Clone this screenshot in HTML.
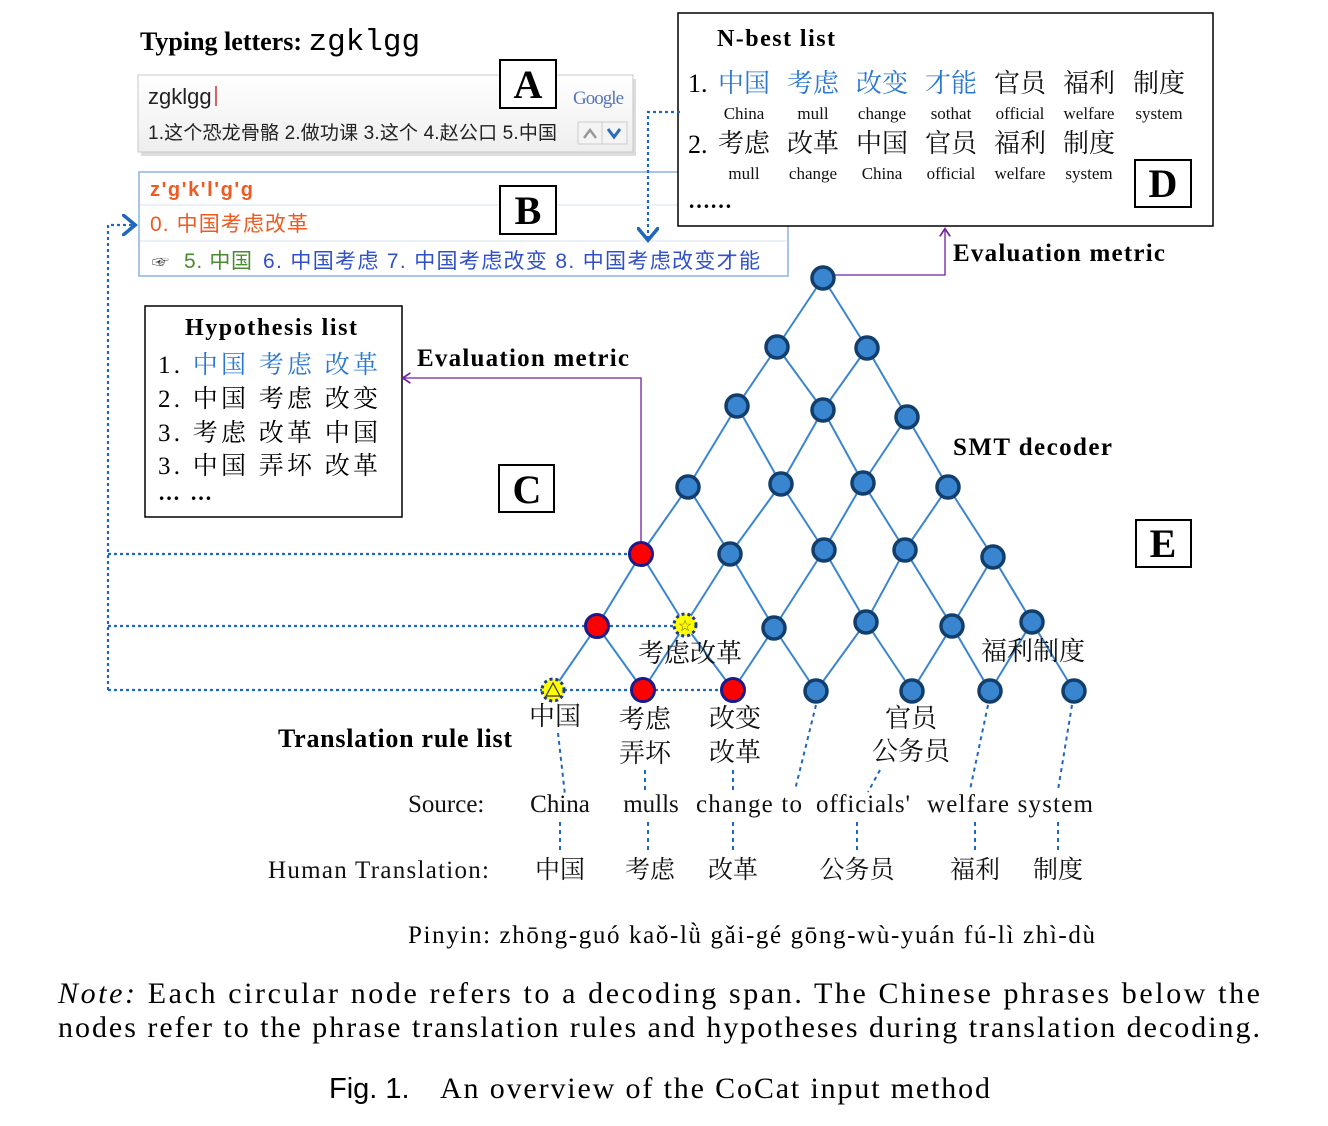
<!DOCTYPE html>
<html><head><meta charset="utf-8"><style>
body{margin:0;background:#fff}
svg{display:block}
.s{font-family:"Liberation Serif","Noto Serif CJK SC","Noto Sans CJK SC",serif}
.a{font-family:"Liberation Sans","Noto Sans CJK SC",sans-serif}
.b{font-weight:bold}
</style></head><body>
<svg id="fig" width="1328" height="1126" viewBox="0 0 1328 1126" xmlns="http://www.w3.org/2000/svg">
<defs>
<marker id="arrB" markerWidth="10" markerHeight="10" refX="5" refY="5" orient="auto"><path d="M0,0 L6,5 L0,10" fill="none" stroke="#1f66c0" stroke-width="1.6"/></marker>
<marker id="arrP" markerWidth="10" markerHeight="10" refX="5" refY="5" orient="auto"><path d="M0,1 L6,5 L0,9" fill="none" stroke="#7020a0" stroke-width="1.3"/></marker>
<linearGradient id="ime" x1="0" y1="0" x2="0" y2="1"><stop offset="0" stop-color="#ffffff"/><stop offset="1" stop-color="#eeeeee"/></linearGradient>
</defs>

<text x="140" y="50" class="s b" font-size="26">Typing letters: <tspan font-family="Liberation Mono, monospace" font-weight="normal" font-size="31">zgklgg</tspan></text>

<g>
<rect x="141" y="79" width="495" height="77" fill="#cfcfcf" opacity="0.7"/>
<rect x="138" y="75" width="495" height="77" fill="url(#ime)" stroke="#c8c8c8"/>
<text x="148" y="104" class="a" font-size="22" fill="#222">zgklgg</text>
<line x1="216" y1="86" x2="216" y2="106" stroke="#d03030" stroke-width="1.5"/>
<text x="573" y="104" class="s" font-size="19" fill="#5577bb" textLength="51">Google</text>
<text x="148" y="139" class="a" font-size="19" fill="#222" textLength="409">1.这个恐龙骨骼 2.做功课 3.这个 4.赵公口 5.中国</text>
<rect x="578" y="122" width="24" height="22" fill="#f4f4f4" stroke="#ccc"/>
<rect x="602" y="122" width="25" height="22" fill="#f4f4f4" stroke="#ccc"/>
<path d="M584,138 L590,130 L596,138" fill="none" stroke="#999" stroke-width="2.5"/>
<path d="M608,129 L614,137 L620,129" fill="none" stroke="#2a6ac0" stroke-width="3"/>
</g>
<rect x="500" y="60" width="56" height="48" fill="#fff" stroke="#000" stroke-width="2"/>
<text x="528" y="98" text-anchor="middle" class="s b" font-size="40">A</text>

<g>
<rect x="139" y="172" width="649" height="104" fill="#fff" stroke="#a8c6e6" stroke-width="2"/>
<line x1="140" y1="205" x2="787" y2="205" stroke="#d6e4f2"/>
<line x1="140" y1="241" x2="787" y2="241" stroke="#d6e4f2"/>
<text x="150" y="196" class="a b" font-size="20" fill="#ee5a20" textLength="103">z'g'k'l'g'g</text>
<text x="150" y="231" class="a" font-size="21" fill="#ee5a20" textLength="158">0. 中国考虑改革</text>
<text x="152" y="268" class="a" font-size="17" fill="#333">☞</text>
<text x="184" y="268" class="a" font-size="21" fill="#4a8a30" textLength="68">5. 中国</text>
<text x="263" y="268" class="a" font-size="21" fill="#3050c8" textLength="497">6. 中国考虑 7. 中国考虑改变 8. 中国考虑改变才能</text>
</g>
<rect x="500" y="186" width="56" height="48" fill="#fff" stroke="#000" stroke-width="2"/>
<text x="528" y="224" text-anchor="middle" class="s b" font-size="40">B</text>

<g>
<rect x="678" y="13" width="535" height="213" fill="#fff" stroke="#000" stroke-width="1.5"/>
<text x="717" y="46" class="s b" font-size="24" textLength="118">N-best list</text>
<text x="688" y="92" class="s" font-size="26">1.</text>
<text x="688" y="153" class="s" font-size="26">2.</text>
<text x="688" y="208" class="s b" font-size="22">……</text>
<g id="nb" class="s"></g>
</g>
<rect x="1135" y="160" width="56" height="47" fill="#fff" stroke="#000" stroke-width="2"/>
<text x="1163" y="197" text-anchor="middle" class="s b" font-size="40">D</text>

<g>
<rect x="145" y="306" width="257" height="211" fill="#fff" stroke="#000" stroke-width="1.5"/>
<text x="185" y="335" class="s b" font-size="24" textLength="172">Hypothesis list</text>
<text x="158" y="373" class="s" font-size="25" textLength="220">1. <tspan fill="#2a78d0">中国 考虑 改革</tspan></text>
<text x="158" y="407" class="s" font-size="25" textLength="220">2. 中国 考虑 改变</text>
<text x="158" y="441" class="s" font-size="25" textLength="220">3. 考虑 改革 中国</text>
<text x="158" y="474" class="s" font-size="25" textLength="220">3. 中国 弄坏 改革</text>
<text x="158" y="500" class="s b" font-size="22" textLength="54">……</text>
</g>
<rect x="499" y="465" width="55" height="47" fill="#fff" stroke="#000" stroke-width="2"/>
<text x="527" y="503" text-anchor="middle" class="s b" font-size="40">C</text>
<rect x="1136" y="520" width="55" height="47" fill="#fff" stroke="#000" stroke-width="2"/>
<text x="1163" y="557" text-anchor="middle" class="s b" font-size="40">E</text>

<text x="953" y="261" class="s b" font-size="25" textLength="212">Evaluation metric</text>
<text x="417" y="366" class="s b" font-size="25" textLength="212">Evaluation metric</text>
<text x="953" y="455" class="s b" font-size="25" textLength="159">SMT decoder</text>
<text x="278" y="747" class="s b" font-size="26" textLength="234">Translation rule list</text>

<g fill="none" stroke-width="2.2" stroke="#1f66c0" stroke-dasharray="3,3">
<path d="M680,112 H648 V238" marker-end="url(#arrB)"/>
<path d="M108,690 V225 H133" marker-end="url(#arrB)"/>
<path d="M108,554 H630"/>
<path d="M108,626 H586"/>
<path d="M586,626 H674"/>
<path d="M108,690 H632"/>
<path d="M655,690 H722"/>
</g>
<g fill="none" stroke="#7020a0" stroke-width="1.3">
<path d="M835,275 H945 V230" marker-end="url(#arrP)"/>
<path d="M641,542 V378 H404" marker-end="url(#arrP)"/>
</g>

<g id="lattice"></g>

<g class="s" font-size="26" fill="#111">
<text x="690" y="662" text-anchor="middle">考虑改革</text>
<text x="1033" y="660" text-anchor="middle">福利制度</text>
<text x="555" y="725" text-anchor="middle">中国</text>
<text x="645" y="728" text-anchor="middle">考虑</text>
<text x="645" y="762" text-anchor="middle">弄坏</text>
<text x="735" y="727" text-anchor="middle">改变</text>
<text x="735" y="761" text-anchor="middle">改革</text>
<text x="911" y="727" text-anchor="middle">官员</text>
<text x="911" y="760" text-anchor="middle">公务员</text>
</g>

<g fill="none" stroke="#1f66c0" stroke-width="2" stroke-dasharray="4,4">
<path d="M558,733 L565,795"/><path d="M560,822 V852"/>
<path d="M645,770 V792"/><path d="M648,822 V852"/>
<path d="M733,770 V792"/><path d="M733,822 V852"/>
<path d="M816,705 L795,790"/>
<path d="M880,770 L868,792"/><path d="M857,822 V852"/>
<path d="M988,705 L970,790"/><path d="M975,822 V852"/>
<path d="M1072,705 L1058,790"/><path d="M1058,822 V852"/>
</g>

<g class="s" font-size="25" fill="#111">
<text x="408" y="812">Source:</text>
<text x="560" y="812" text-anchor="middle">China</text>
<text x="651" y="812" text-anchor="middle">mulls</text>
<text x="749" y="812" text-anchor="middle" textLength="106">change to</text>
<text x="863" y="812" text-anchor="middle" textLength="94">officials'</text>
<text x="1010" y="812" text-anchor="middle" textLength="166">welfare system</text>
</g>
<g class="s" font-size="25" fill="#111">
<text x="268" y="878" textLength="221">Human Translation:</text>
<text x="560" y="878" text-anchor="middle">中国</text>
<text x="650" y="878" text-anchor="middle">考虑</text>
<text x="733" y="878" text-anchor="middle">改革</text>
<text x="857" y="878" text-anchor="middle">公务员</text>
<text x="975" y="878" text-anchor="middle">福利</text>
<text x="1058" y="878" text-anchor="middle">制度</text>
</g>
<text x="408" y="943" class="s" font-size="25" textLength="687">Pinyin: zhōng-guó kaǒ-lǜ gǎi-gé  gōng-wù-yuán  fú-lì   zhì-dù</text>

<text x="58" y="1003" class="s" font-size="30" textLength="1202" lengthAdjust="spacing"><tspan font-style="italic">Note:</tspan> Each circular node refers to a decoding span. The Chinese phrases below the</text>
<text x="58" y="1037" class="s" font-size="30" textLength="1202" lengthAdjust="spacing">nodes refer to the phrase translation rules and hypotheses during translation decoding.</text>
<text x="329" y="1098" class="a" font-size="29">Fig. 1.</text>
<text x="440" y="1098" class="s" font-size="30" textLength="550">An overview of the CoCat input method</text>
</svg>
<script>
const nb1Words = ["中国","考虑","改变","才能","官员","福利","制度"];
const nb1Gloss = ["China","mull","change","sothat","official","welfare","system"];
const nb1Blue = 4;
const nb2Words = ["考虑","改革","中国","官员","福利","制度"];
const nb2Gloss = ["mull","change","China","official","welfare","system"];
const rowX = [[823],[777,867],[737,823,907],[688,781,863,948],[641,730,824,905,993],[597,685,774,866,952,1032],[553,643,733,816,912,990,1074]];
const rowY = [[278],[347,348],[406,410,417],[487,484,483,487],[554,554,550,550,557],[626,625,628,622,626,622],[690,690,690,691,691,691,691]];
const nodeKind = [["b"],["b","b"],["b","b","b"],["b","b","b","b"],["r","b","b","b","b"],["r","s","b","b","b","b"],["t","r","r","b","b","b","b"]];
const NS="http://www.w3.org/2000/svg";
function mk(tag,attrs,parent){const e=document.createElementNS(NS,tag);for(const k in attrs)e.setAttribute(k,attrs[k]);parent.appendChild(e);return e;}
const nb=document.getElementById('nb');
const colX=[744,813,882,951,1020,1089,1159];
function nbRow(words,gloss,y,blue){
  words.forEach((w,i)=>{
    const t=mk('text',{x:colX[i],y:y,'text-anchor':'middle','font-size':26,fill:i<blue?'#2a78d0':'#111'},nb);
    
    
    t.textContent=w;
    const g=mk('text',{x:colX[i],y:y+27,'text-anchor':'middle','font-size':17,fill:'#111'},nb);
    
    
    g.textContent=gloss[i];
  });
}
nbRow(nb1Words,nb1Gloss,92,nb1Blue);
nbRow(nb2Words,nb2Gloss,152,0);
const lat=document.getElementById('lattice');
const eg=mk('g',{stroke:'#3a85d0','stroke-width':2},lat);
for(let r=0;r<rowX.length-1;r++){
  for(let i=0;i<rowX[r].length;i++){
    for(const j of [i,i+1]){
      const l=mk('line',{x1:rowX[r][i],y1:rowY[r][i],x2:rowX[r+1][j],y2:rowY[r+1][j]},eg);
      
      
    }
  }
}
for(let r=0;r<rowX.length;r++){
  for(let i=0;i<rowX[r].length;i++){
    const k=nodeKind[r][i],x=rowX[r][i],y=rowY[r][i];
    let c;
    if(k==="b"){c=mk('circle',{cx:x,cy:y,r:11,fill:'#3a85d0',stroke:'#123e6c','stroke-width':3.5},lat);}
    else if(k==="r"){c=mk('circle',{cx:x,cy:y,r:11.5,fill:'#ff0000',stroke:'#1a1a8a','stroke-width':3},lat);}
    else{
      c=mk('circle',{cx:x,cy:y,r:11,fill:'#ffff00',stroke:'#1a3a8a','stroke-width':3,'stroke-dasharray':'3,3'},lat);
      if(k==="s"){const s=mk('text',{x:x,y:y+6,'text-anchor':'middle','font-size':16,fill:'#6a5a00'},lat);s.textContent='☆';}
      else{mk('path',{d:`M${x-7},${y+6} L${x},${y-7} L${x+7},${y+6} Z`,fill:'none',stroke:'#333','stroke-width':1.2},lat);}
    }
    
    
  }
}
</script>
</body></html>
